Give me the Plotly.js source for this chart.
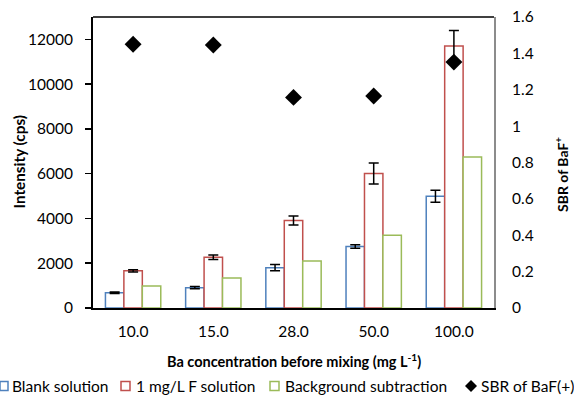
<!DOCTYPE html>
<html>
<head>
<meta charset="utf-8">
<script src="https://cdn.plot.ly/plotly-3.0.1.min.js"></script>
<style>html,body{margin:0;padding:0;background:#fff;}#chart{width:574px;height:396px;}</style>
</head>
<body>
<div id="chart"></div>
<script>
const categories = ["10.0", "15.0", "28.0", "50.0", "100.0"];
const blank = [680, 910, 1800, 2750, 4990];
const blankErr = [30, 50, 140, 80, 270];
const fSolution = [1660, 2270, 3910, 6010, 11700];
const fSolutionErr = [50, 100, 200, 470, 700];
const background = [980, 1345, 2105, 3255, 6750];
const sbr = [1.45, 1.446, 1.158, 1.166, 1.352];
const seriesNames = ["Blank solution", "1 mg/L F solution", "Background subtraction", "SBR of BaF(+)"];
const seriesColors = ["#4F81BD", "#C0504D", "#9BBB59", "#000000"];
const xTitle = "<b>Ba concentration before mixing (mg L<sup>-1</sup>)</b>";
const yTitle = "<b>Intensity (cps)</b>";
const y2Title = "<b>SBR of BaF<sup>+</sup></b>";

const FONT = "Lato, 'Open Sans', sans-serif";
const W = 574, H = 396;
const M = {l: 93, r: 80, t: 17, b: 88};
const PW = W - M.l - M.r, PH = H - M.t - M.b;
const px = (x) => (x - M.l) / PW;          // pixel -> paper x
const py = (y) => (H - M.b - y) / PH;      // pixel -> paper y

const errStyle = (arr) => ({type: "data", array: arr, visible: true, color: "#000", thickness: 1.5, width: 5});

const traces = [
  {type: "bar", name: seriesNames[0], x: categories, y: blank, error_y: errStyle(blankErr),
   marker: {color: "#fff", line: {color: seriesColors[0], width: 1.5}}},
  {type: "bar", name: seriesNames[1], x: categories, y: fSolution, error_y: errStyle(fSolutionErr),
   marker: {color: "#fff", line: {color: seriesColors[1], width: 1.5}}},
  {type: "bar", name: seriesNames[2], x: categories, y: background,
   marker: {color: "#fff", line: {color: seriesColors[2], width: 1.5}}},
  {type: "scatter", mode: "markers", name: seriesNames[3], x: categories, y: sbr, yaxis: "y2",
   marker: {symbol: "diamond", size: 13, color: seriesColors[3]}}
];

// Legend drawn manually (layout only): squares / diamond + labels
const legendY = 386;
const legendItems = [
  {box: [0, 8], text: 10},
  {box: [121, 130], text: 134},
  {box: [270, 279], text: 283},
  {box: [465, 477], text: 479}
];
const shapes = [{type: "line", xref: "paper", yref: "paper", x0: 0, x1: 1, y0: 1, y1: 1,
                 line: {color: "#000", width: 1.5}}];
const annotations = [];
legendItems.forEach((it, i) => {
  if (i < 3) {
    shapes.push({type: "rect", xref: "paper", yref: "paper",
      x0: px(it.box[0]), x1: px(it.box[1]), y0: py(legendY - 4.5), y1: py(legendY + 4.5),
      fillcolor: "#fff", line: {color: seriesColors[i], width: 1.5}});
  } else {
    const cx = (it.box[0] + it.box[1]) / 2, r = 6;
    shapes.push({type: "path", xref: "paper", yref: "paper",
      path: `M ${px(cx - r)} ${py(legendY)} L ${px(cx)} ${py(legendY - r)} L ${px(cx + r)} ${py(legendY)} L ${px(cx)} ${py(legendY + r)} Z`,
      fillcolor: "#000", line: {color: "#000", width: 0}});
  }
  annotations.push({xref: "paper", yref: "paper", x: px(it.text), y: py(legendY), xanchor: "left", yanchor: "middle",
    text: seriesNames[i], showarrow: false, font: {family: FONT, size: 15.5, color: "#000"}});
});

// Axis titles
annotations.push({xref: "paper", yref: "paper", x: px(293.5), y: py(360), xanchor: "center", yanchor: "middle",
  text: xTitle, showarrow: false, font: {family: FONT, size: 14.5, color: "#000"}});
annotations.push({xref: "paper", yref: "paper", x: px(18), y: py(162.5), xanchor: "center", yanchor: "middle",
  text: yTitle, textangle: -90, showarrow: false, font: {family: FONT, size: 15.3, color: "#000"}});
annotations.push({xref: "paper", yref: "paper", x: px(561), y: py(175), xanchor: "center", yanchor: "middle",
  text: y2Title, textangle: -90, showarrow: false, font: {family: FONT, size: 14, color: "#000"}});

const layout = {
  width: W, height: H,
  margin: M,
  paper_bgcolor: "#fff", plot_bgcolor: "#fff",
  font: {family: FONT, size: 15.5, color: "#000"},
  barmode: "group", bargap: 0.31, bargroupgap: 0,
  showlegend: false,
  xaxis: {type: "category", showline: true, linecolor: "#000", linewidth: 2, ticks: "",
          showgrid: false, zeroline: false, tickfont: {size: 15.5}, ticklabelstandoff: 8, automargin: false},
  yaxis: {range: [0, 13000], dtick: 2000, tickformat: "d", showline: true, linecolor: "#000", linewidth: 2,
          ticks: "outside", ticklen: 6, tickcolor: "#000", tickwidth: 1.5, showgrid: false, zeroline: false,
          tickfont: {size: 15.5}, ticklabelstandoff: 9, automargin: false},
  yaxis2: {overlaying: "y", side: "right", range: [0, 1.6], dtick: 0.2, showline: true, linecolor: "#8c8c8c",
           linewidth: 2, ticks: "", showgrid: false, zeroline: false, tickfont: {size: 15.5},
           ticklabelstandoff: 13, automargin: false},
  shapes: shapes,
  annotations: annotations
};

Plotly.newPlot("chart", traces, layout, {displayModeBar: false, staticPlot: true});
</script>
</body>
</html>
